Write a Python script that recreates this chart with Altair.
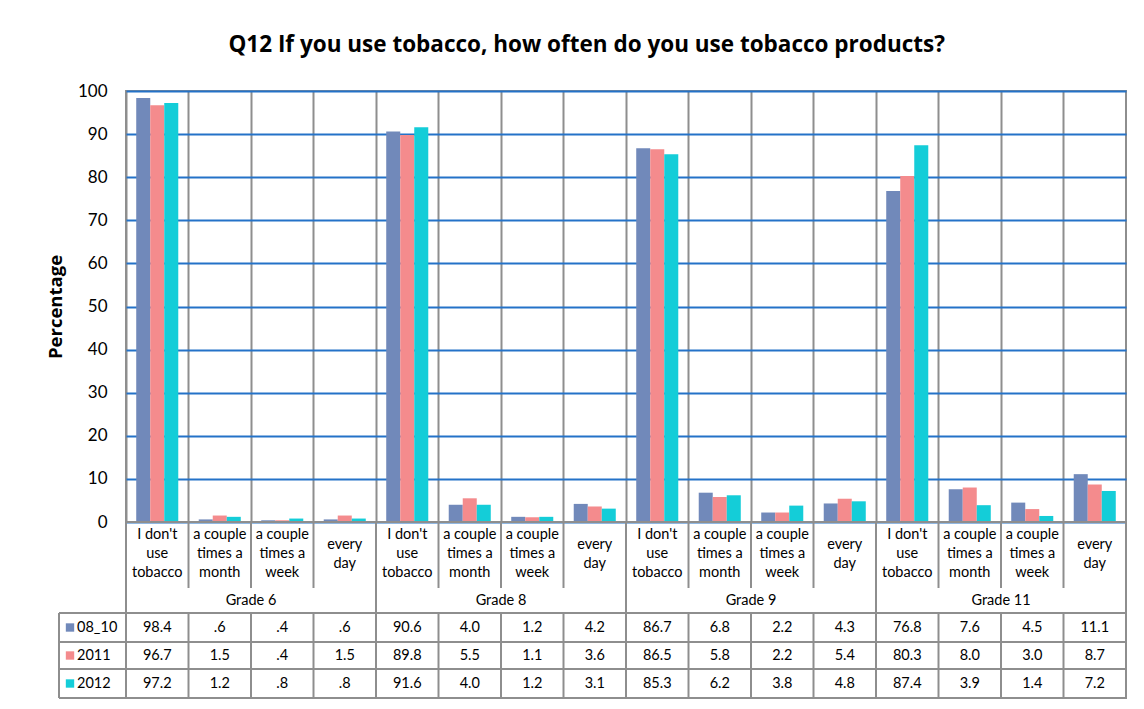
import altair as alt
import pandas as pd

grades = ["Grade 6", "Grade 8", "Grade 9", "Grade 11"]
answers = ["I don't\nuse\ntobacco", "a couple\ntimes a\nmonth", "a couple\ntimes a\nweek", "every\nday"]
series = ["08_10", "2011", "2012"]
v_0810 = [98.4, 0.6, 0.4, 0.6, 90.6, 4.0, 1.2, 4.2, 86.7, 6.8, 2.2, 4.3, 76.8, 7.6, 4.5, 11.1]
v_2011 = [96.7, 1.5, 0.4, 1.5, 89.8, 5.5, 1.1, 3.6, 86.5, 5.8, 2.2, 5.4, 80.3, 8.0, 3.0, 8.7]
v_2012 = [97.2, 1.2, 0.8, 0.8, 91.6, 4.0, 1.2, 3.1, 85.3, 6.2, 3.8, 4.8, 87.4, 3.9, 1.4, 7.2]
y_ticks = list(range(0, 101, 10))

colors = ["#7189BA", "#F48B8D", "#14CDD8"]
GRID_BLUE = "#2472C8"
GRAY = "#8E8E8E"
FONT = "Lato"
TFONT = "Open Sans"

values = {"08_10": v_0810, "2011": v_2011, "2012": v_2012}
keys = [f"{g}|{a}" for g in grades for a in answers]


def fmt(v):
    s = f"{v:.1f}"
    return s[1:] if s.startswith("0.") else s


rows = []
for s in series:
    for k, v in zip(keys, values[s]):
        rows.append({"key": k, "series": s, "value": v, "label": fmt(v)})
df = pd.DataFrame(rows)

xscale = alt.Scale(domain=keys, paddingInner=0, paddingOuter=0)
cscale = alt.Scale(domain=series, range=colors)

top = alt.Chart(df).mark_bar().encode(
    x=alt.X("key:N", sort=keys, scale=xscale,
            axis=alt.Axis(title=None, labels=False, ticks=False, domain=False, grid=True,
                          bandPosition=0, gridColor=GRAY, gridWidth=2, gridOpacity=1)),
    xOffset=alt.XOffset("series:N", sort=series,
                        scale=alt.Scale(domain=series, paddingInner=0, paddingOuter=0.73)),
    y=alt.Y("value:Q", scale=alt.Scale(domain=[0, 100], nice=False),
            axis=alt.Axis(values=y_ticks, title="Percentage", grid=True, gridColor=GRID_BLUE,
                          gridWidth=2, gridOpacity=1, ticks=False, domain=False,
                          labelFont=FONT, labelFontSize=17, labelPadding=19, labelColor="black",
                          titleFont=TFONT, titleFontSize=18.5, titleFontWeight="bold",
                          titlePadding=12, titleColor="black")),
    color=alt.Color("series:N", scale=cscale, legend=None),
).properties(width=1000, height=431)

# ---- data table below the plot ----
H = 176
CAT_ROW = (0, 66)
GRADE_ROW = (66, 91)
DATA_EDGES = [91, 120, 147, 176]
LINE_H = 19
row_center = {s: (DATA_EDGES[i] + DATA_EDGES[i + 1]) / 2 for i, s in enumerate(series)}

yscale = alt.Scale(domain=[0, H], reverse=True, nice=False, zero=False)
X = lambda **kw: alt.X("key:N", sort=keys, scale=xscale, axis=None, **kw)
Y = lambda f: alt.Y(f, scale=yscale, axis=None)

cat_center = 32
cat_labels = answers * len(grades)
cat_df = pd.DataFrame({
    "key": keys, "label": cat_labels,
    "y": [cat_center - (lab.count("\n")) * LINE_H / 2 for lab in cat_labels]})
cat_text = alt.Chart(cat_df).mark_text(lineBreak="\n", font=FONT, fontSize=14.5, lineHeight=LINE_H,
                                       baseline="middle", color="black").encode(
    x=X(), y=Y("y:Q"), text="label:N")

grade_df = pd.DataFrame({"key": [keys[4 * i + 1] for i in range(len(grades))], "label": grades,
                         "y": [(GRADE_ROW[0] + GRADE_ROW[1]) / 2] * len(grades)})
grade_text = alt.Chart(grade_df).mark_text(font=FONT, fontSize=14.5, baseline="middle",
                                           color="black").encode(
    x=X(bandPosition=1), y=Y("y:Q"), text="label:N")

tab_df = df.assign(y=df["series"].map(row_center))
val_text = alt.Chart(tab_df).mark_text(font=FONT, fontSize=14.5, baseline="middle",
                                       color="black").encode(
    x=X(), y=Y("y:Q"), text="label:N")

vr = []
for i, k in enumerate(keys):
    if i % 4 == 0:
        vr.append({"key": k, "y1": 0, "y2": H})
    else:
        vr.append({"key": k, "y1": CAT_ROW[0], "y2": CAT_ROW[1]})
        vr.append({"key": k, "y1": DATA_EDGES[0], "y2": H})
vr_df = pd.DataFrame(vr)
vrules = alt.Chart(vr_df).mark_rule(color=GRAY, strokeWidth=2).encode(
    x=X(bandPosition=0), y=Y("y1:Q"), y2="y2:Q")

hr_df = pd.DataFrame({"y": DATA_EDGES})
hrules = alt.Chart(hr_df).mark_rule(color=GRAY, strokeWidth=2).encode(
    x=alt.value(-67), x2=alt.value(1000), y=Y("y:Q"))

left_df = pd.DataFrame({"y1": [DATA_EDGES[0]], "y2": [DATA_EDGES[-1]]})
left_rule = alt.Chart(left_df).mark_rule(color=GRAY, strokeWidth=2).encode(
    x=alt.value(-67), y=Y("y1:Q"), y2="y2:Q")

leg_df = pd.DataFrame({"series": series, "y": [row_center[s] for s in series]})
leg_sq = alt.Chart(leg_df).mark_square(size=70, opacity=1, filled=True).encode(
    x=alt.value(-56), y=Y("y:Q"), color=alt.Color("series:N", scale=cscale, legend=None))
leg_txt = alt.Chart(leg_df).mark_text(font=FONT, fontSize=14.5, baseline="middle", align="left",
                                      color="black").encode(
    x=alt.value(-49), y=Y("y:Q"), text="series:N")

table = alt.layer(vrules, hrules, left_rule, cat_text, grade_text, val_text, leg_sq, leg_txt
                  ).properties(width=1000, height=H)

chart = alt.vconcat(
    top, table, spacing=0, bounds="flush",
    title=alt.TitleParams("Q12 If you use tobacco, how often do you use tobacco products?",
                          font=TFONT, fontSize=22.5, fontWeight="bold", color="black",
                          anchor="middle", offset=25),
).properties(padding={"left": 37, "top": 25, "right": 5, "bottom": 5}
).configure_view(stroke=GRAY, strokeWidth=2)

chart.save("out.html", embed_options={"renderer": "svg", "actions": False})
